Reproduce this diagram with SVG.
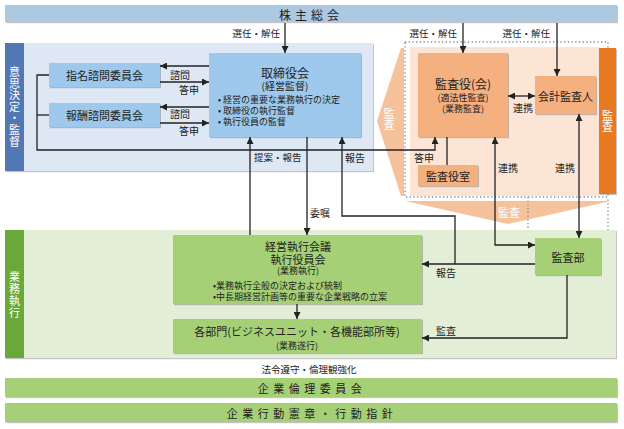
<svg xmlns="http://www.w3.org/2000/svg" width="624" height="429" viewBox="0 0 624 429">
<defs>
<filter id="sh" x="-5%" y="-5%" width="110%" height="115%">
<feDropShadow dx="1" dy="1.2" stdDeviation="0.7" flood-color="#555" flood-opacity="0.35"/>
</filter>
<marker id="ah" viewBox="0 0 10 10" refX="10" refY="5" markerWidth="7" markerHeight="7" markerUnits="userSpaceOnUse" orient="auto-start-reverse">
<path d="M0,0 L10,5 L0,10 z" fill="#222"/>
</marker>
</defs>
<style>
text{font-family:"Noto Sans CJK JP","Noto Sans",sans-serif;fill:#222;dominant-baseline:central}
.c{text-anchor:middle}
.w{fill:#fff}
.v{writing-mode:vertical-rl;text-orientation:upright;text-anchor:middle}
.t12{font-size:12px}
.t11{font-size:11px}
.t10{font-size:10px}
.t9{font-size:9px}
.ln{fill:none;stroke:#222;stroke-width:1.3}
.blue{fill:#9ec9ec}
.or{fill:#f4b17f}
.gr{fill:#a6d075}
.dot{fill:none;stroke:#8a8a8a;stroke-width:1.3;stroke-dasharray:1.3 2.4}
</style>

<!-- Shareholders -->
<g id="shareholders">
<rect x="5" y="5" width="612" height="17" fill="#adc8e1" filter="url(#sh)"/>
<text class="c t12" x="311" y="14" letter-spacing="4">株主総会</text>
</g>

<!-- Decision panel -->
<g id="decision-panel">
<rect x="5" y="43" width="368" height="128" fill="#dde8f4" filter="url(#sh)"/>
<rect x="5" y="43" width="19" height="128" fill="#5277b5"/>
<text class="v w t11" x="14.5" y="107" letter-spacing="0.6">意思決定・監督</text>
</g>

<!-- Audit area -->
<g id="audit-area">
<polygon points="401,48 404,48 404,196 401,196 377,121" fill="#f6c29b"/>
<rect x="410" y="47" width="190" height="149" fill="#fce5d4"/>
<polygon points="405,201 611,201 508,224" fill="#f6c29b"/>
<rect x="405" y="42" width="203" height="155" class="dot"/>
<path d="M528,197 V281 H608 V197" class="dot"/>
<rect x="599" y="48" width="17" height="146" fill="#e87a22" filter="url(#sh)"/>
<text class="v w t11" x="389" y="119">監査</text>
<text class="v w t11" x="607.5" y="121">監査</text>
<text class="c w t11" x="509" y="212">監査</text>
</g>

<!-- Execution panel -->
<g id="execution-panel">
<rect x="5" y="230" width="611" height="128" fill="#e3eed6" filter="url(#sh)"/>
<rect x="5" y="230" width="19" height="128" fill="#6aa83a"/>
<text class="v w t11" x="14.5" y="295" letter-spacing="1">業務執行</text>
</g>

<!-- Nodes -->
<g id="nomination">
<rect x="49" y="63" width="111" height="24" class="blue" filter="url(#sh)"/>
<text class="c t11" x="104.5" y="75">指名諮問委員会</text>
</g>
<g id="compensation">
<rect x="49" y="103" width="111" height="24" class="blue" filter="url(#sh)"/>
<text class="c t11" x="104.5" y="115">報酬諮問委員会</text>
</g>
<g id="board">
<rect x="209" y="53" width="152" height="84" class="blue" filter="url(#sh)"/>
<text class="c t12" x="285" y="72">取締役会</text>
<text class="c t10" x="285" y="85">(経営監督)</text>
<text class="t9" x="218" y="99.5" font-size="9.5">• 経営の重要な業務執行の決定</text>
<text class="t9" x="218" y="110.5" font-size="9.5">• 取締役の執行監督</text>
<text class="t9" x="218" y="121.5" font-size="9.5">• 執行役員の監督</text>
</g>
<g id="auditors">
<rect x="418" y="53" width="90" height="84" class="or" filter="url(#sh)"/>
<text class="c t12" x="463" y="83">監査役(会)</text>
<text class="c t9" x="463" y="97">(適法性監査)</text>
<text class="c t9" x="463" y="108">(業務監査)</text>
</g>
<g id="accounting-auditor">
<rect x="535" y="76" width="61" height="38" class="or" filter="url(#sh)"/>
<text class="c t11" x="565.5" y="96" font-size="11.5">会計監査人</text>
</g>
<g id="auditors-office">
<rect x="418" y="165" width="60" height="21" class="or" filter="url(#sh)"/>
<text class="c t11" x="448" y="176">監査役室</text>
</g>
<g id="internal-audit">
<rect x="535" y="238" width="66" height="37" class="gr" filter="url(#sh)"/>
<text class="c t11" x="568" y="257">監査部</text>
</g>
<g id="exec-committee">
<rect x="173" y="235" width="249" height="69" class="gr" filter="url(#sh)"/>
<text class="c t11" x="298" y="246">経営執行会議</text>
<text class="c t11" x="298" y="258.5">執行役員会</text>
<text class="c t9" x="298" y="270.5" font-size="9.5">(業務執行)</text>
<text class="t9" x="213" y="285" font-size="9.5">•業務執行全般の決定および統制</text>
<text class="t9" x="213" y="296" font-size="9.5">•中長期経営計画等の重要な企業戦略の立案</text>
</g>
<g id="departments">
<rect x="173" y="319" width="249" height="34" class="gr" filter="url(#sh)"/>
<text class="c t11" x="297" y="331">各部門(ビジネスユニット・各機能部所等)</text>
<text class="c t9" x="297" y="345" font-size="9.5">(業務遂行)</text>
</g>
<g id="ethics-committee">
<rect x="5" y="378" width="612" height="19" class="gr" filter="url(#sh)"/>
<text class="c t11" x="312" y="388" letter-spacing="4.5">企業倫理委員会</text>
</g>
<g id="code-of-conduct">
<rect x="5" y="403" width="612" height="19" class="gr" filter="url(#sh)"/>
<text class="c t11" x="312" y="413" letter-spacing="4.5">企業行動憲章・行動指針</text>
</g>

<!-- Connectors -->
<g id="connectors">
<path class="ln" d="M285,23 V53" marker-end="url(#ah)"/>
<path class="ln" d="M463,23 V53" marker-end="url(#ah)"/>
<path class="ln" d="M557,23 V76" marker-end="url(#ah)"/>
<path class="ln" d="M209,66 H160" marker-end="url(#ah)"/>
<path class="ln" d="M160,82 H209" marker-end="url(#ah)"/>
<path class="ln" d="M209,107 H160" marker-end="url(#ah)"/>
<path class="ln" d="M160,123 H209" marker-end="url(#ah)"/>
<path class="ln" d="M49,75 H37 V150 H435 V137" marker-end="url(#ah)"/>
<path class="ln" d="M37,115 H49"/>
<path class="ln" d="M250,235 V137" marker-end="url(#ah)"/>
<path class="ln" d="M307,137 V235" marker-end="url(#ah)"/>
<path class="ln" d="M535,264 H422" marker-end="url(#ah)"/>
<path class="ln" d="M455,264 V216 H342 V137" marker-end="url(#ah)"/>
<path class="ln" d="M567,275 V338 H422" marker-end="url(#ah)"/>
<path class="ln" d="M495,137 V245 H535" marker-start="url(#ah)" marker-end="url(#ah)"/>
<path class="ln" d="M579,114 V238" marker-start="url(#ah)" marker-end="url(#ah)"/>
<path class="ln" d="M508,96 H535" marker-start="url(#ah)" marker-end="url(#ah)"/>
<path class="ln" d="M447,137 V165"/>
<path class="ln" d="M297,304 V319" marker-end="url(#ah)"/>
</g>

<!-- Connector labels -->
<g id="labels" class="t10">
<text x="280" y="33" text-anchor="end" font-size="9.5">選任・解任</text>
<text x="457" y="33" text-anchor="end" font-size="9.5">選任・解任</text>
<text x="550" y="33" text-anchor="end" font-size="9.5">選任・解任</text>
<text x="170" y="74">諮問</text>
<text x="179" y="89">答申</text>
<text x="170" y="113">諮問</text>
<text x="179" y="130">答申</text>
<text x="254" y="157" font-size="9.5">提案・報告</text>
<text x="345" y="157">報告</text>
<text x="414" y="157">答申</text>
<text x="310" y="212">委嘱</text>
<text x="513" y="107">連携</text>
<text x="498" y="167">連携</text>
<text x="555" y="167">連携</text>
<text x="436" y="272">報告</text>
<text x="436" y="330">監査</text>
<text class="c" x="309" y="369" font-size="9.5">法令遵守・倫理観強化</text>
</g>
</svg>
